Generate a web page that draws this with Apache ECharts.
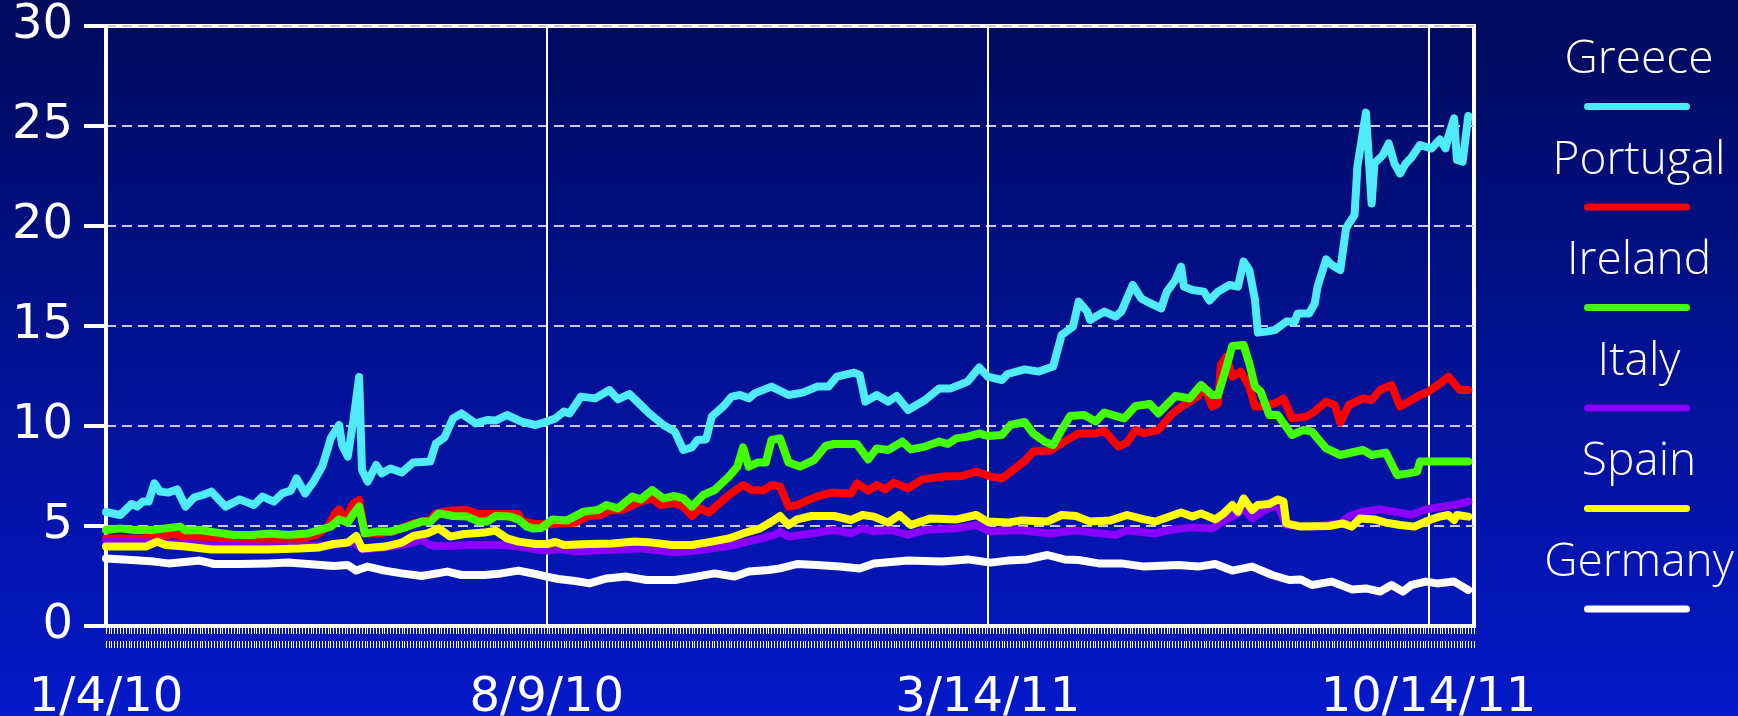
<!doctype html>
<html lang="en">
<head>
  <meta charset="UTF-8">
  <title>Bond yields</title>
  <style>
    html, body { margin: 0; padding: 0; }
  </style>
</head>
<body>
<div id="main" style="width: 1738px;height: 716px"></div>
<script src="https://cdn.jsdelivr.net/npm/echarts@6/dist/echarts.min.js"></script>
<script>
    // trading-day index on the x axis, 482 days from 1/4/10
    var dayCount = 482;
    var labelStep = 155;
    var tickLabels = ['1/4/10', '8/9/10', '3/14/11', '10/14/11'];
    var names = ['Greece', 'Portugal', 'Ireland', 'Italy', 'Spain', 'Germany'];
    var colors = ['#50ebfa', '#ff0000', '#44ff00', '#8a00ff', '#ffff00', '#ffffff'];

    // [day index, yield %]
    var greece = [[0,5.7],[5,5.55],[9,6.1],[11,5.97],[13,6.22],[15,6.22],[17,7.13],[19,6.72],[22,6.67],[25,6.83],[28,5.97],[31,6.43],[34,6.55],[37,6.72],[42,5.97],[47,6.33],[52,6.05],[55,6.47],[59,6.22],[62,6.63],[65,6.77],[67,7.38],[70,6.63],[73,7.22],[76,7.97],[78,8.88],[79,9.38],[82,10.05],[83,9.05],[85,8.47],[87,10.3],[89,12.45],[90,7.8],[92,7.22],[95,8.05],[97,7.63],[100,7.88],[104,7.67],[108,8.17],[114,8.22],[116,9.13],[119,9.43],[122,10.38],[125,10.63],[130,10.13],[134,10.3],[137,10.27],[141,10.55],[146,10.22],[151,10.05],[155,10.22],[158,10.38],[161,10.72],[163,10.63],[167,11.47],[172,11.38],[177,11.8],[180,11.33],[184,11.6],[188,11.05],[191,10.63],[196,10.05],[200,9.72],[203,8.8],[206,8.93],[208,9.3],[211,9.33],[213,10.47],[217,10.97],[220,11.47],[223,11.55],[226,11.38],[228,11.63],[234,11.97],[240,11.55],[245,11.67],[250,11.97],[254,11.97],[257,12.47],[263,12.67],[265,12.55],[267,11.22],[271,11.55],[275,11.22],[278,11.5],[282,10.8],[288,11.3],[293,11.88],[297,11.88],[303,12.22],[307,12.93],[310,12.47],[315,12.3],[317,12.6],[323,12.83],[328,12.72],[333,12.97],[336,14.55],[340,14.97],[342,16.22],[345,15.72],[346,15.3],[351,15.72],[355,15.47],[357,15.72],[361,17.05],[364,16.38],[366,16.22],[371,15.88],[373,16.72],[376,17.3],[378,17.97],[379,16.97],[382,16.8],[386,16.72],[388,16.27],[391,16.72],[395,17.05],[398,16.97],[400,18.22],[402,17.8],[404,16.3],[405,14.67],[408,14.72],[411,14.8],[415,15.22],[418,15.22],[419,15.63],[423,15.63],[425,16.13],[426,16.97],[429,18.33],[431,18.05],[434,17.8],[436,19.88],[437,20.13],[439,20.55],[440,22.97],[443,25.67],[445,21.13],[446,23.13],[449,23.55],[451,24.13],[453,23.13],[455,22.63],[457,23.13],[459,23.43],[462,24.05],[466,23.88],[469,24.33],[471,23.88],[472,24.47],[474,25.38],[475,23.3],[477,23.22],[479,25.5]];
    var portugal = [[0,4.38],[9,4.38],[14,4.38],[18,4.55],[21,4.47],[23,4.63],[27,4.47],[33,4.47],[39,4.38],[45,4.3],[51,4.3],[57,4.3],[63,4.3],[68,4.33],[74,4.55],[78,4.97],[81,5.72],[82,5.83],[84,5.3],[87,6.13],[89,6.3],[91,4.63],[95,4.63],[101,4.72],[108,5.13],[114,5.3],[116,5.63],[121,5.77],[127,5.8],[131,5.6],[137,5.6],[145,5.6],[146,5.27],[150,5.13],[155,5.08],[159,5.13],[165,5.17],[169,5.47],[174,5.55],[177,5.77],[182,5.83],[187,6.17],[192,6.38],[195,6.05],[200,6.13],[203,5.97],[206,5.5],[209,5.88],[212,5.67],[215,6.05],[219,6.55],[224,7.05],[227,6.8],[231,6.77],[234,7.05],[237,6.97],[240,5.97],[243,6.05],[247,6.3],[250,6.47],[255,6.67],[262,6.63],[264,7.13],[268,6.77],[271,7.05],[274,6.83],[277,7.17],[282,6.88],[287,7.33],[294,7.47],[301,7.5],[306,7.72],[311,7.47],[315,7.38],[318,7.7],[323,8.25],[326,8.72],[332,8.77],[337,9.22],[342,9.63],[348,9.63],[351,9.77],[356,8.97],[359,9.17],[362,9.8],[365,9.63],[370,9.8],[375,10.63],[379,11.05],[384,11.5],[386,11.97],[389,10.97],[391,11.13],[392,13.05],[394,13.47],[396,12.47],[399,12.72],[402,11.97],[404,10.97],[406,10.97],[411,11.13],[414,11.38],[417,10.38],[422,10.47],[425,10.72],[429,11.22],[432,11.05],[434,10.17],[437,11.05],[442,11.38],[445,11.3],[448,11.8],[452,12.05],[455,10.97],[458,11.22],[462,11.55],[465,11.72],[469,12.13],[472,12.47],[476,11.8],[479,11.8]];
    var ireland = [[0,4.8],[5,4.88],[10,4.8],[16,4.8],[21,4.88],[26,4.97],[28,4.77],[33,4.8],[39,4.67],[45,4.55],[51,4.55],[58,4.63],[64,4.55],[71,4.63],[75,4.8],[79,4.97],[82,5.33],[85,5.17],[87,5.6],[89,5.97],[91,4.63],[95,4.72],[100,4.72],[106,4.97],[111,5.22],[114,5.22],[117,5.63],[122,5.5],[127,5.47],[131,5.22],[134,5.22],[137,5.5],[142,5.47],[145,5.33],[148,4.97],[150,4.88],[153,4.9],[157,5.33],[162,5.27],[168,5.72],[173,5.8],[176,6.05],[180,5.88],[185,6.47],[188,6.33],[192,6.8],[196,6.38],[200,6.5],[203,6.38],[206,5.97],[210,6.55],[214,6.8],[219,7.47],[222,7.97],[224,8.93],[226,7.97],[229,8.17],[232,8.17],[234,9.3],[237,9.38],[240,8.17],[244,7.97],[249,8.3],[253,9.0],[256,9.1],[264,9.1],[268,8.33],[271,8.88],[275,8.8],[280,9.22],[283,8.83],[288,8.97],[293,9.22],[296,9.1],[299,9.38],[303,9.47],[307,9.63],[310,9.5],[315,9.55],[318,10.05],[323,10.2],[326,9.63],[330,9.22],[333,9.05],[336,9.8],[339,10.5],[344,10.55],[348,10.22],[351,10.67],[358,10.38],[362,11.0],[367,11.1],[370,10.63],[376,11.5],[381,11.38],[385,12.05],[389,11.55],[391,11.55],[394,12.97],[396,14.0],[400,14.05],[402,13.13],[404,11.97],[406,11.72],[409,10.55],[412,10.55],[417,9.55],[421,9.8],[424,9.72],[429,8.88],[434,8.55],[442,8.8],[445,8.55],[450,8.67],[454,7.55],[458,7.63],[461,7.72],[462,8.22],[471,8.22],[479,8.22]];
    var italy = [[0,4.22],[16,4.17],[33,4.05],[51,3.97],[68,3.97],[80,4.05],[87,4.22],[90,3.83],[98,3.93],[104,4.05],[111,4.3],[114,4.05],[116,4.0],[122,4.0],[127,4.05],[133,4.05],[139,4.05],[145,3.97],[151,3.83],[155,3.77],[160,3.85],[165,3.72],[176,3.8],[188,3.88],[200,3.67],[209,3.8],[219,4.0],[229,4.33],[235,4.55],[237,4.72],[240,4.47],[247,4.6],[256,4.8],[262,4.63],[266,4.88],[270,4.72],[276,4.8],[282,4.55],[288,4.8],[299,4.88],[306,5.05],[311,4.72],[317,4.77],[322,4.77],[332,4.63],[341,4.77],[347,4.67],[355,4.55],[359,4.77],[369,4.63],[374,4.8],[382,4.93],[389,4.88],[394,5.33],[398,5.63],[400,5.88],[403,5.38],[407,5.77],[412,6.05],[415,5.05],[424,4.97],[434,5.13],[437,5.47],[442,5.72],[448,5.83],[453,5.72],[459,5.55],[464,5.83],[470,5.97],[474,6.05],[479,6.22]];
    var spain = [[0,3.97],[9,3.97],[14,3.97],[18,4.22],[21,4.05],[28,3.97],[37,3.83],[45,3.83],[57,3.83],[68,3.87],[75,3.93],[80,4.1],[85,4.17],[88,4.5],[90,3.88],[98,3.97],[104,4.17],[108,4.5],[113,4.63],[117,4.88],[121,4.47],[126,4.6],[133,4.67],[137,4.77],[141,4.38],[145,4.22],[151,4.1],[155,4.1],[158,4.2],[161,4.05],[170,4.1],[178,4.13],[186,4.22],[192,4.17],[199,4.05],[206,4.05],[211,4.17],[219,4.38],[224,4.63],[230,4.88],[235,5.3],[237,5.5],[240,5.05],[243,5.33],[248,5.5],[256,5.5],[262,5.3],[266,5.55],[270,5.47],[275,5.17],[279,5.55],[283,5.05],[290,5.38],[299,5.33],[306,5.55],[310,5.22],[317,5.17],[322,5.28],[331,5.22],[336,5.55],[341,5.5],[346,5.22],[353,5.27],[359,5.55],[365,5.33],[369,5.22],[374,5.47],[378,5.67],[382,5.47],[385,5.63],[390,5.33],[393,5.63],[396,6.05],[398,5.72],[400,6.38],[403,5.8],[405,6.05],[409,6.1],[412,6.33],[414,6.22],[415,5.13],[420,4.97],[430,5.0],[435,5.13],[438,4.97],[441,5.38],[446,5.33],[450,5.17],[455,5.05],[460,4.97],[464,5.22],[469,5.47],[472,5.55],[474,5.3],[475,5.55],[479,5.47]];
    var germany = [[0,3.38],[9,3.3],[17,3.22],[22,3.13],[33,3.27],[38,3.1],[47,3.1],[57,3.13],[64,3.17],[71,3.1],[80,3.0],[85,3.05],[88,2.77],[92,2.97],[98,2.77],[104,2.63],[111,2.5],[120,2.72],[125,2.55],[133,2.55],[139,2.63],[145,2.77],[151,2.6],[155,2.47],[159,2.35],[165,2.25],[170,2.13],[176,2.38],[183,2.47],[190,2.3],[200,2.3],[206,2.43],[214,2.63],[221,2.47],[226,2.72],[233,2.8],[237,2.88],[243,3.1],[250,3.05],[258,2.97],[265,2.88],[270,3.13],[282,3.27],[294,3.22],[303,3.33],[311,3.17],[317,3.27],[324,3.33],[331,3.55],[337,3.33],[342,3.3],[349,3.13],[357,3.13],[365,2.97],[377,3.05],[384,2.97],[390,3.1],[396,2.77],[403,2.97],[410,2.55],[416,2.3],[420,2.33],[424,2.05],[431,2.22],[438,1.83],[443,1.88],[448,1.72],[452,2.05],[456,1.72],[459,2.05],[464,2.22],[468,2.13],[474,2.22],[477,1.97],[479,1.8]];

    var seriesData = [greece, portugal, ireland, italy, spain, germany];
    var days = [];
    for (var d = 0; d < dayCount; d++) days.push(d);

    var legendFont = '"Open Sans", sans-serif';
    var axisFont = '"DejaVu Sans", sans-serif';
    let myCharts = echarts.init(document.querySelector('#main'));
    myCharts.setOption({
        animation: false,
        backgroundColor: {
            type: 'linear', x: 0, y: 0, x2: 0, y2: 1,
            colorStops: [{offset: 0, color: '#010a5c'}, {offset: 1, color: '#0419c9'}]
        },
        color: colors,
        grid: {
            left: 106, right: 264, top: 26, bottom: 90,
            outerBoundsMode: 'none',
            containLabel: false,
            show: true,
            borderColor: '#ffffff',
            borderWidth: 4
        },
        legend: [
            {
                // names
                data: names,
                orient: 'vertical',
                left: 1524,
                top: 30,
                icon: 'none',
                itemWidth: 0,
                itemHeight: 7,
                itemGap: 50.5,
                selectedMode: false,
                formatter: function (name) { return '{n|' + name + '}'; },
                textStyle: {
                    color: '#fff',
                    rich: {
                        n: {width: 210, height: 50, align: 'center', fontSize: 46, lineHeight: 50,
                            fontFamily: legendFont, fontWeight: 300, color: '#fff'}
                    }
                }
            },
            {
                // line samples
                data: names,
                orient: 'vertical',
                left: 1579,
                top: 98,
                icon: 'path://M3.5,0H102.5A3.5,3.5,0,0,1,102.5,7H3.5A3.5,3.5,0,0,1,3.5,0Z',
                itemWidth: 106,
                itemHeight: 7,
                itemGap: 93.5,
                selectedMode: false,
                itemStyle: {borderWidth: 0},
                formatter: function () { return ''; }
            }
        ],
        xAxis: [
            {
                type: 'category',
                data: days,
                boundaryGap: false,
                axisLine: {lineStyle: {color: '#fff', width: 4}},
                axisTick: {interval: 0, length: 8, lineStyle: {color: '#fff', width: 1}},
                axisLabel: {
                    interval: labelStep - 1,
                    margin: 49,
                    color: '#fff',
                    fontSize: 48,
                    fontFamily: axisFont,
                    formatter: function (value, index) { return tickLabels[index / labelStep] || ''; }
                },
                splitLine: {show: true, interval: labelStep - 1, lineStyle: {color: '#fff', width: 2}}
            },
            {
                type: 'category',
                data: days,
                boundaryGap: false,
                position: 'bottom',
                offset: 15,
                axisLine: {show: false},
                axisTick: {interval: 0, length: 7, lineStyle: {color: '#fff', width: 1}},
                axisLabel: {show: false},
                splitLine: {show: false}
            }
        ],
        yAxis: {
            type: 'value',
            min: 0, max: 30, interval: 5,
            axisLine: {show: true, lineStyle: {color: '#fff', width: 4}},
            axisTick: {show: true, length: 22, lineStyle: {color: '#fff', width: 4}},
            axisLabel: {color: '#fff', fontSize: 48, fontFamily: axisFont, margin: 33},
            splitLine: {lineStyle: {color: '#c8c8e6', width: 2, type: [10, 6]}}
        },
        series: names.map(function (name, k) {
            return {
                name: name,
                type: 'line',
                showSymbol: false,
                symbol: 'none',
                data: seriesData[k],
                lineStyle: {width: 8, color: colors[k], cap: 'round', join: 'round'}
            };
        })
    });
</script>
</body>
</html>
